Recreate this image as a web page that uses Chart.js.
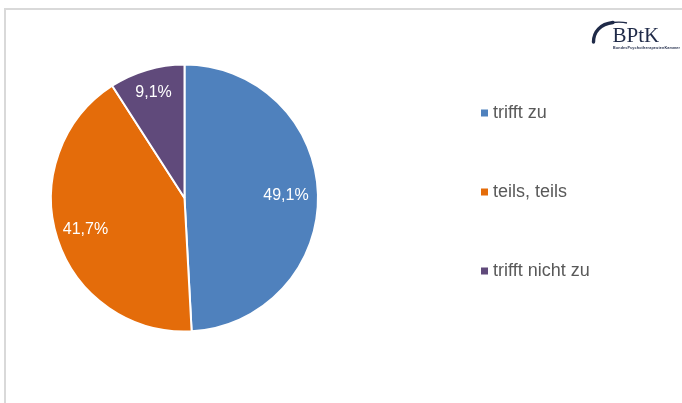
<!DOCTYPE html>
<html>
<head>
<meta charset="utf-8">
<script src="https://cdn.jsdelivr.net/npm/chart.js@4"></script>
<style>
  html, body { margin: 0; padding: 0; background: #ffffff; }
  body { width: 682px; height: 403px; position: relative; overflow: hidden; font-family: "Liberation Sans", Arial, sans-serif; }
  #frame { position: absolute; left: 4px; top: 8px; right: -2px; bottom: -2px; border-top: 2px solid #d9d9d9; border-left: 2px solid #d9d9d9; }
  #wrap { position: absolute; left: 0; top: 0; width: 682px; height: 403px; }
  #logo { position: absolute; left: 585px; top: 8px; }
</style>
</head>
<body>
<div id="frame"></div>
<div id="wrap"><canvas id="c" width="682" height="403"></canvas></div>
<svg id="logo" width="97" height="46" viewBox="0 0 97 46">
  <path d="M8.5 34 C 8.5 24, 15 16, 28 14.5" fill="none" stroke="#1f2a48" stroke-width="3.4" stroke-linecap="round"/>
  <path d="M27 14.5 C 33 14, 38 14, 42 15" fill="none" stroke="#1f2a48" stroke-width="1.3"/>
  <text x="27.5" y="34" font-family="'Liberation Serif', 'DejaVu Serif', serif" font-size="21" fill="#1f2a48">BPtK</text>
  <text x="28" y="41" font-family="'Liberation Sans', sans-serif" font-size="3.7" font-weight="bold" fill="#1f2a48" textLength="67">BundesPsychotherapeutenKammer</text>
</svg>
<script>
const categories = ["trifft zu", "teils, teils", "trifft nicht zu"];
const values = [49.1, 41.7, 9.1];
const valueLabels = ["49,1%", "41,7%", "9,1%"];
const colors = ["#4f81bd", "#e46c0a", "#604a7b"];

const sliceLabels = {
  id: 'sliceLabels',
  afterDatasetsDraw(chart) {
    const ctx = chart.ctx;
    const meta = chart.getDatasetMeta(0);
    ctx.save();
    ctx.fillStyle = '#ffffff';
    ctx.font = '16px "Liberation Sans", Arial, sans-serif';
    ctx.textAlign = 'center';
    ctx.textBaseline = 'middle';
    meta.data.forEach((arc, i) => {
      const p = arc.getProps(['x', 'y', 'startAngle', 'endAngle', 'outerRadius'], true);
      const mid = (p.startAngle + p.endAngle) / 2;
      const f = [0.76, 0.78, 0.82][i];
      const r = p.outerRadius * f;
      ctx.fillText(valueLabels[i], p.x + Math.cos(mid) * r, p.y + Math.sin(mid) * r);
    });
    ctx.restore();
  }
};

const sideLegend = {
  id: 'sideLegend',
  afterDraw(chart) {
    const ctx = chart.ctx;
    const ds = chart.data.datasets[0];
    const x0 = 481, y0 = 113, step = 79;
    ctx.save();
    ctx.font = '18px "Liberation Sans", Arial, sans-serif';
    ctx.textBaseline = 'middle';
    ctx.textAlign = 'left';
    chart.data.labels.forEach((lab, i) => {
      const y = y0 + i * step;
      ctx.fillStyle = ds.backgroundColor[i];
      ctx.fillRect(x0, y - 3.5, 7, 7);
      ctx.fillStyle = '#595959';
      ctx.fillText(lab, x0 + 12, y);
    });
    ctx.restore();
  }
};

new Chart(document.getElementById('c'), {
  type: 'pie',
  data: {
    labels: categories,
    datasets: [{
      data: values,
      backgroundColor: colors,
      borderColor: '#ffffff',
      borderWidth: 2
    }]
  },
  options: {
    responsive: false,
    animation: false,
    layout: { padding: { left: 50, top: 62, bottom: 69, right: 363 } },
    plugins: {
      legend: { display: false },
      tooltip: { enabled: false }
    }
  },
  plugins: [sliceLabels, sideLegend]
});
</script>
</body>
</html>
